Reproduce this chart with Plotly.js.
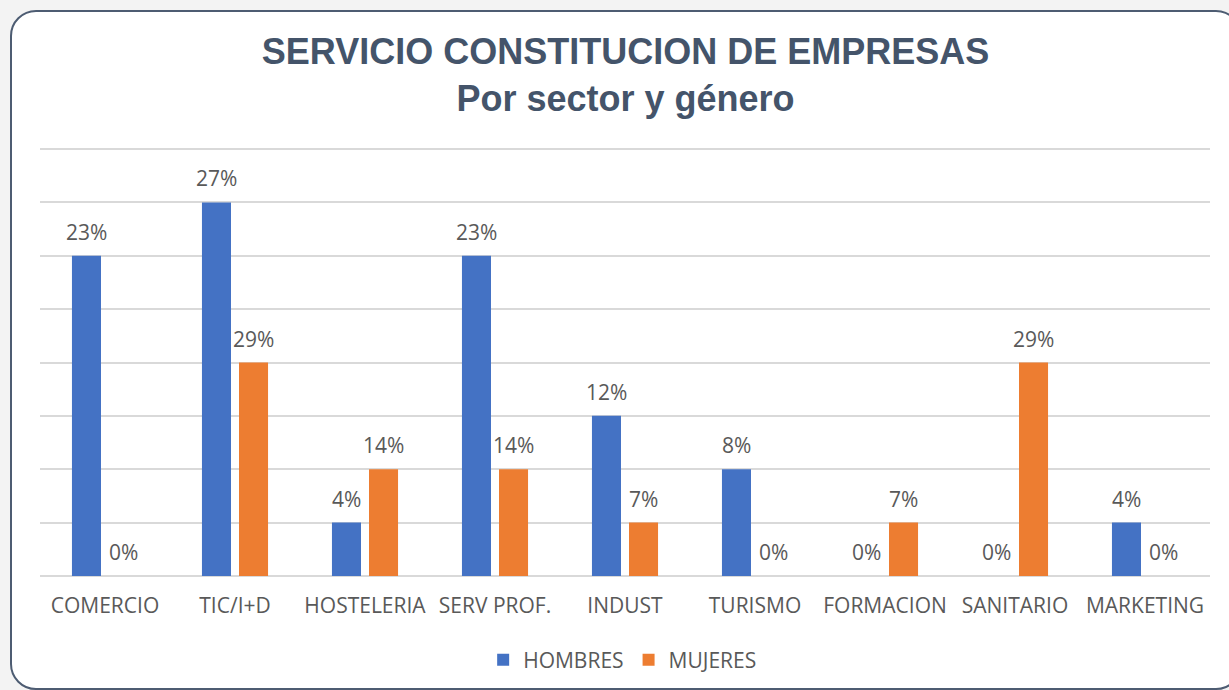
<!DOCTYPE html>
<html>
<head>
<meta charset="utf-8">
<script src="https://cdn.plot.ly/plotly-3.0.1.min.js"></script>
<style>
  html, body { margin: 0; padding: 0; width: 1229px; height: 690px; overflow: hidden; background: #f3f3f3; }
  #frame { position: absolute; left: 10px; top: 10px; width: 1228px; height: 676px; background: #ffffff;
           border: 2px solid #4d5c72; border-radius: 26px; }
  #chart { position: absolute; left: 0; top: 0; width: 1229px; height: 690px; }
</style>
</head>
<body>
<div id="frame"></div>
<div id="chart"></div>
<script>
const categories = ['COMERCIO', 'TIC/I+D', 'HOSTELERIA', 'SERV PROF.', 'INDUST', 'TURISMO', 'FORMACION', 'SANITARIO', 'MARKETING'];
const hombres = [6, 7, 1, 6, 3, 2, 0, 0, 1];
const mujeres = [0, 4, 2, 2, 1, 0, 1, 4, 0];
const hombresLabels = ['23%', '27%', '4%', '23%', '12%', '8%', '0%', '0%', '4%'];
const mujeresLabels = ['0%', '29%', '14%', '14%', '7%', '0%', '7%', '29%', '0%'];

const textColor = '#595959';
const labelFont = { family: 'Open Sans, sans-serif', size: 21, color: textColor };

const traces = [
  { type: 'bar', name: 'HOMBRES', x: categories, y: hombres, marker: { color: '#4472C4' }, hoverinfo: 'skip' },
  { type: 'bar', name: 'MUJERES', x: categories, y: mujeres, marker: { color: '#ED7D31' }, hoverinfo: 'skip' }
];

const annotations = [];
categories.forEach((c, i) => {
  annotations.push({ x: c, y: hombres[i], text: hombresLabels[i], showarrow: false, xanchor: 'center', yanchor: 'middle',
                     xshift: -18.5, yshift: 24, font: labelFont });
  annotations.push({ x: c, y: mujeres[i], text: mujeresLabels[i], showarrow: false, xanchor: 'center', yanchor: 'middle',
                     xshift: 18.5, yshift: 24, font: labelFont });
});

const layout = {
  width: 1229, height: 690,
  paper_bgcolor: 'rgba(0,0,0,0)', plot_bgcolor: 'rgba(0,0,0,0)',
  margin: { l: 40, r: 19, t: 147, b: 112, autoexpand: false },
  title: {
    text: 'SERVICIO CONSTITUCION DE EMPRESAS<br>Por sector y género',
    font: { family: 'Liberation Sans, Arial, sans-serif', size: 36, color: '#44546a', weight: 'bold' },
    x: 0.509, xanchor: 'center', y: 1 - 64 / 690, yanchor: 'top'
  },
  barmode: 'group', bargap: 0.43, bargroupgap: 0.216,
  xaxis: { type: 'category', showgrid: false, zeroline: false, showline: false, ticks: '',
           tickfont: labelFont, ticklabelstandoff: 13, fixedrange: true, automargin: false },
  yaxis: { range: [-0.0375, 8.0375], dtick: 1, tick0: 0, showticklabels: false, showgrid: true, gridcolor: '#d9d9d9', gridwidth: 2,
           zeroline: false, showline: false, ticks: '', fixedrange: true, automargin: false },
  legend: { orientation: 'h', x: 0.498, xanchor: 'center', yref: 'container', y: 1 - 660 / 690, yanchor: 'middle',
            font: labelFont, bgcolor: 'rgba(0,0,0,0)' },
  annotations: annotations,
  showlegend: true
};

Plotly.newPlot('chart', traces, layout, { displayModeBar: false, staticPlot: true });
</script>
</body>
</html>
